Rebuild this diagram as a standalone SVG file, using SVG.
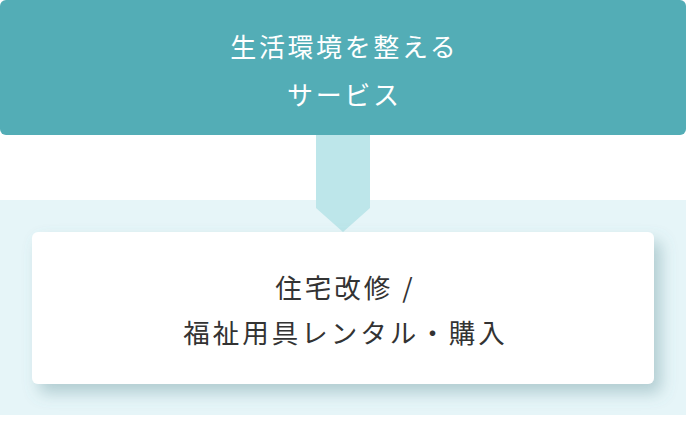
<svg xmlns="http://www.w3.org/2000/svg" width="694" height="424" viewBox="0 0 694 424">
  <style>
    .t { font-family: "Noto Sans CJK JP", "Noto Sans", sans-serif; text-anchor: middle; dominant-baseline: central; font-weight: 400; }
    .head { fill: #ffffff; font-size: 26px; letter-spacing: 2.6px; }
    .body { fill: #333333; font-size: 26.5px; letter-spacing: 3px; }
  </style>
  <defs>
    <filter id="shadow" x="-10%" y="-20%" width="125%" height="150%">
      <feDropShadow dx="7" dy="9" stdDeviation="8" flood-color="#5a8a93" flood-opacity="0.38"/>
    </filter>
  </defs>
  <rect x="0" y="200" width="686" height="215" fill="#e6f5f8"/>
  <g id="connectors">
    <polygon points="316,135 370,135 370,208 343,232 316,208" fill="#bde6ea"/>
  </g>
  <g id="node-top">
    <rect x="0" y="0" width="686" height="135" rx="6" fill="#53adb6"/>
    <text class="t head" x="344.3" y="45.5">生活環境を整える</text>
    <text class="t head" x="344.3" y="93">サービス</text>
  </g>
  <g id="node-bottom">
    <rect x="32" y="232" width="622" height="152" rx="6" fill="#ffffff" filter="url(#shadow)"/>
    <text class="t body" x="345.5" y="286.5">住宅改修 /</text>
    <text class="t body" x="345.5" y="331.5">福祉用具レンタル・購入</text>
  </g>
</svg>
